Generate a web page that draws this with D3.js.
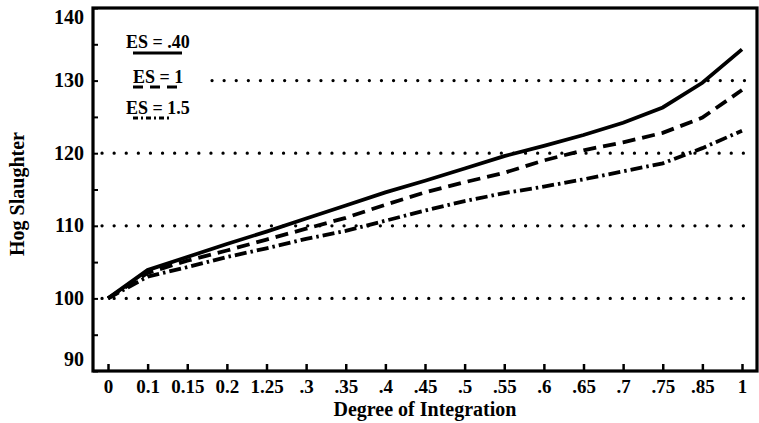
<!DOCTYPE html>
<html>
<head>
<meta charset="utf-8">
<script src="https://cdn.jsdelivr.net/npm/d3@7"></script>
<style>
  body { margin: 0; background: #fff; }
  text { font-family: "Liberation Serif", "DejaVu Serif", serif; font-weight: bold; fill: #000; }
</style>
</head>
<body>
<svg id="chart" width="759" height="423"></svg>
<script>
// degree of integration categories (labels as printed)
var categories = ["0", "0.1", "0.15", "0.2", "1.25", ".3", ".35", ".4", ".45", ".5", ".55", ".6", ".65", ".7", ".75", ".85", "1"];

var es40 = [100, 103.9, 105.7, 107.5, 109.2, 111.0, 112.8, 114.6, 116.2, 117.9, 119.6, 121.0, 122.5, 124.2, 126.3, 129.7, 134.3];
var es1 = [100, 103.5, 105.2, 106.6, 108.1, 109.6, 111.1, 112.9, 114.6, 116.0, 117.3, 119.0, 120.4, 121.5, 122.8, 124.9, 128.7];
var es15 = [100, 103.0, 104.3, 105.7, 106.9, 108.2, 109.3, 110.7, 112.1, 113.4, 114.5, 115.4, 116.4, 117.5, 118.6, 120.7, 123.1];

var yTicks = [90, 100, 110, 120, 130, 140];
var yMinorTicks = [90, 95, 100, 105, 110, 115, 120, 125, 130, 135, 140];
var gridValues = [100, 110, 120, 130];

var svg = d3.select("#chart");

var mLeft = 93, mRight = 757, mTop = 8, mBottom = 371;

var x = d3.scalePoint().domain(categories).range([108, 742]);
var y = d3.scaleLinear().domain([90, 140]).range([mBottom, mTop]);

// dotted gridlines
svg.selectAll(".grid").data(gridValues).enter().append("line")
  .attr("class", "grid")
  .attr("x1", function(d){ return d == 130 ? 212 : 102; })
  .attr("x2", mRight - 2)
  .attr("y1", function(d){ return y(d); })
  .attr("y2", function(d){ return y(d); })
  .attr("stroke", "#000")
  .attr("stroke-width", 3.2)
  .attr("stroke-linecap", "round")
  .attr("stroke-dasharray", "0.1 12");

// series lines
var line = d3.line()
  .x(function(d, i){ return x(categories[i]); })
  .y(function(d){ return y(d); });

var series = [
  {name: "ES = .40", values: es40, dash: null},
  {name: "ES = 1", values: es1, dash: "13 7"},
  {name: "ES = 1.5", values: es15, dash: "12 4 2.5 4"}
];

svg.selectAll(".series").data(series).enter().append("path")
  .attr("class", "series")
  .attr("d", function(d){ return line(d.values); })
  .attr("fill", "none")
  .attr("stroke", "#000")
  .attr("stroke-width", 3.8)
  .attr("stroke-dasharray", function(d){ return d.dash; });

// frame
svg.append("rect")
  .attr("x", mLeft).attr("y", mTop)
  .attr("width", mRight - mLeft).attr("height", mBottom - mTop)
  .attr("fill", "none")
  .attr("stroke", "#000")
  .attr("stroke-width", 3.2);

// x axis: ticks point up into the plot
var xAxis = svg.append("g")
  .attr("transform", "translate(0," + mBottom + ")")
  .call(d3.axisBottom(x).tickSizeInner(-7).tickSizeOuter(0).tickPadding(9));
xAxis.select(".domain").remove();
xAxis.selectAll("line").attr("stroke-width", 2.5);
xAxis.selectAll("text").attr("font-size", 19).style("font-family", "Liberation Serif").style("font-weight", "bold");

// y axis labels (end labels sit inside the frame corners, as printed)
var yAxis = svg.append("g")
  .attr("transform", "translate(" + mLeft + ",0)")
  .call(d3.axisLeft(y).tickValues(yTicks).tickSize(0).tickPadding(9));
yAxis.select(".domain").remove();
yAxis.selectAll("text")
  .attr("font-size", 20)
  .attr("dy", function(d){ return d == 140 ? "0.75em" : (d == 90 ? "-0.3em" : "0.3em"); })
  .style("font-family", "Liberation Serif").style("font-weight", "bold");

// y minor ticks pointing inward
var yMinor = svg.append("g")
  .attr("transform", "translate(" + mLeft + ",0)")
  .call(d3.axisRight(y).tickValues(yMinorTicks).tickSize(5).tickFormat(""));
yMinor.select(".domain").remove();
yMinor.selectAll("line").attr("stroke-width", 2);

// axis titles
svg.append("text")
  .attr("x", 425).attr("y", 416)
  .attr("text-anchor", "middle")
  .attr("font-size", 20)
  .text("Degree of Integration");

svg.append("text")
  .attr("transform", "translate(24,194) rotate(-90)")
  .attr("text-anchor", "middle")
  .attr("font-size", 20)
  .text("Hog Slaughter");

// legend
var legendPos = [
  {tx: 126, ty: 48, ly: 53, x2: 182},
  {tx: 133, ty: 83, ly: 87, x2: 183},
  {tx: 126, ty: 114, ly: 118, x2: 170}
];

var legend = svg.selectAll(".legend").data(series).enter().append("g").attr("class", "legend");
legend.append("text")
  .attr("x", function(d, i){ return legendPos[i].tx; })
  .attr("y", function(d, i){ return legendPos[i].ty; })
  .attr("font-size", 18)
  .text(function(d){ return d.name; });
legend.append("line")
  .attr("x1", 133)
  .attr("x2", function(d, i){ return legendPos[i].x2; })
  .attr("y1", function(d, i){ return legendPos[i].ly; })
  .attr("y2", function(d, i){ return legendPos[i].ly; })
  .attr("stroke", "#000")
  .attr("stroke-width", 3)
  .attr("stroke-dasharray", function(d, i){ return i == 1 ? "10 7" : (i == 2 ? "5 3 2 3" : null); });
</script>
</body>
</html>
